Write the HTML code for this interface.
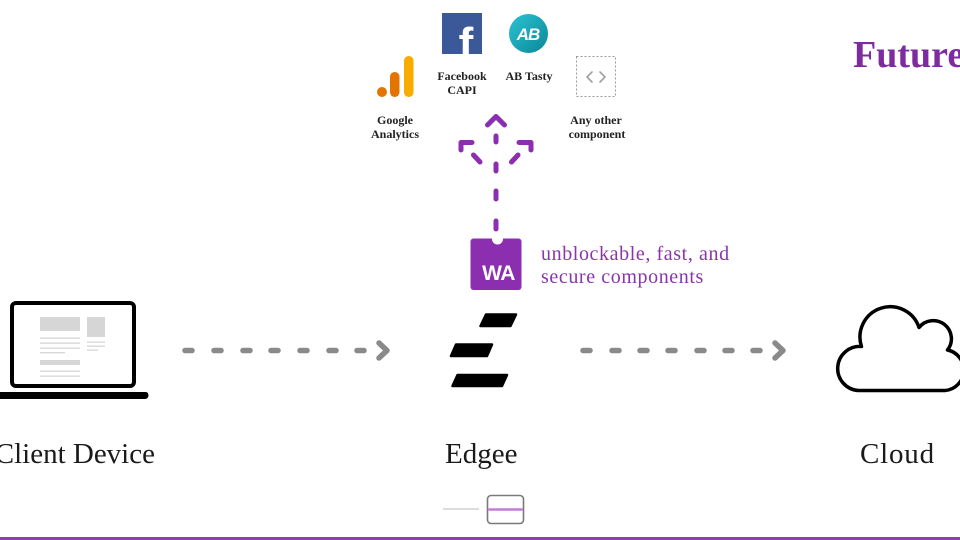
<!DOCTYPE html>
<html>
<head>
<meta charset="utf-8">
<style>
  html, body { margin:0; padding:0; background:#ffffff; }
  body { width:960px; height:540px; overflow:hidden; position:relative; }
  svg { position:absolute; left:0; top:0; }
  .lbl { font-family:"Liberation Serif", serif; font-weight:bold; font-size:12px; fill:#222; }
  .big { font-family:"Liberation Serif", serif; font-size:29px; fill:#1a1a1a; }
</style>
</head>
<body>
<svg width="960" height="540" viewBox="0 0 960 540" xmlns="http://www.w3.org/2000/svg">
  <defs>
    <linearGradient id="abg" x1="0" y1="0" x2="1" y2="1">
      <stop offset="0" stop-color="#2cc3d3"/>
      <stop offset="1" stop-color="#0a8797"/>
    </linearGradient>
  </defs>

  <!-- Future title -->
  <text x="853" y="67" font-family="Liberation Serif, serif" font-weight="bold" font-size="38" fill="#7e2ba0">Future</text>

  <!-- Google Analytics icon -->
  <rect x="404" y="56" width="9.5" height="41" rx="4.7" fill="#F9AB00"/>
  <rect x="390" y="72" width="9.5" height="25" rx="4.7" fill="#E37400"/>
  <circle cx="382" cy="92" r="5" fill="#E37400"/>
  <text class="lbl" x="395" y="124" text-anchor="middle">Google</text>
  <text class="lbl" x="395" y="138" text-anchor="middle">Analytics</text>

  <!-- Facebook -->
  <rect x="442" y="13" width="40" height="41" fill="#3b5998"/>
  <svg x="442" y="13" width="40" height="41" overflow="hidden">
    <text x="24" y="45" font-family="Liberation Sans, sans-serif" font-weight="bold" font-size="44" fill="#ffffff" text-anchor="middle">f</text>
  </svg>
  <text class="lbl" x="462" y="80" text-anchor="middle">Facebook</text>
  <text class="lbl" x="462" y="94" text-anchor="middle">CAPI</text>

  <!-- AB Tasty -->
  <circle cx="528.5" cy="33.5" r="19.5" fill="url(#abg)"/>
  <text x="528" y="40" font-family="Liberation Sans, sans-serif" font-weight="bold" font-style="italic" font-size="17" fill="#ffffff" text-anchor="middle" letter-spacing="-1">AB</text>
  <text class="lbl" x="529" y="80" text-anchor="middle">AB Tasty</text>

  <!-- Any other component -->
  <rect x="576.5" y="56.5" width="39" height="40" fill="none" stroke="#9a9a9a" stroke-width="1" stroke-dasharray="2 2"/>
  <polyline points="592,72 587,77 592,82" fill="none" stroke="#a0a0a0" stroke-width="1.6" stroke-linecap="round" stroke-linejoin="round"/>
  <polyline points="600,72 605,77 600,82" fill="none" stroke="#a0a0a0" stroke-width="1.6" stroke-linecap="round" stroke-linejoin="round"/>
  <text class="lbl" x="596" y="124" text-anchor="middle">Any other</text>
  <text class="lbl" x="597" y="138" text-anchor="middle">component</text>

  <!-- purple arrow cluster -->
  <g fill="none" stroke="#8b2fb0" stroke-width="5" stroke-linecap="round" stroke-linejoin="round">
    <polyline points="487.5,125 496,116.5 504.5,125"/>
    <line x1="496" y1="136" x2="496" y2="142"/>
    <line x1="496" y1="164" x2="496" y2="171"/>
    <line x1="496" y1="191" x2="496" y2="199"/>
    <line x1="496" y1="221" x2="496" y2="229"/>
    <polyline points="472,142.5 461,142.5 461,150"/>
    <polyline points="519,142.5 531,142.5 531,150"/>
    <line x1="473.5" y1="155" x2="480" y2="162"/>
    <line x1="518" y1="155" x2="511.5" y2="162"/>
  </g>

  <!-- WA box -->
  <rect x="470.5" y="238.5" width="51" height="51.5" rx="3" fill="#8b2fb0"/>
  <circle cx="497.5" cy="239" r="5.5" fill="#ffffff"/>
  <text x="498.5" y="280" font-family="Liberation Sans, sans-serif" font-weight="bold" font-size="21" fill="#ffffff" text-anchor="middle" letter-spacing="-0.5">WA</text>

  <text x="541" y="260" font-family="Liberation Serif, serif" font-size="20" fill="#8a35aa" letter-spacing="0.6">unblockable, fast, and</text>
  <text x="541" y="283" font-family="Liberation Serif, serif" font-size="20" fill="#8a35aa" letter-spacing="0.6">secure components</text>

  <!-- Laptop -->
  <rect x="12" y="303" width="122" height="83" rx="4" fill="#ffffff" stroke="#000" stroke-width="4"/>
  <path d="M0 392 H146 a2.5 3.5 0 0 1 2.5 3.5 a3.5 3.5 0 0 1 -3.5 3.5 H0 Z" fill="#000"/>
  <g fill="#d6d6d6">
    <rect x="40" y="317" width="40" height="14"/>
    <rect x="87" y="317" width="18" height="20"/>
    <rect x="40" y="337.5" width="40" height="1.3"/>
    <rect x="40" y="342.5" width="40" height="1.3"/>
    <rect x="40" y="347.5" width="40" height="1.3"/>
    <rect x="40" y="352" width="25" height="1.3"/>
    <rect x="40" y="360" width="40" height="5"/>
    <rect x="40" y="370.5" width="40" height="1.3"/>
    <rect x="40" y="375.5" width="40" height="1.3"/>
    <rect x="87" y="341.5" width="18" height="1.3"/>
    <rect x="87" y="345.5" width="18" height="1.3"/>
    <rect x="87" y="349.5" width="11" height="1.3"/>
  </g>

  <!-- Gray dashed arrows -->
  <g fill="none" stroke="#8a8a8a" stroke-width="5.5" stroke-linecap="round" stroke-linejoin="round">
    <line x1="185" y1="350.5" x2="192" y2="350.5"/>
    <line x1="214" y1="350.5" x2="221" y2="350.5"/>
    <line x1="243" y1="350.5" x2="250" y2="350.5"/>
    <line x1="271" y1="350.5" x2="278" y2="350.5"/>
    <line x1="300" y1="350.5" x2="307" y2="350.5"/>
    <line x1="329" y1="350.5" x2="336" y2="350.5"/>
    <line x1="357" y1="350.5" x2="364" y2="350.5"/>
    <polyline points="379,343 387,350.5 379,358"/>

    <line x1="583" y1="350.5" x2="590" y2="350.5"/>
    <line x1="612" y1="350.5" x2="619" y2="350.5"/>
    <line x1="640" y1="350.5" x2="647" y2="350.5"/>
    <line x1="668" y1="350.5" x2="675" y2="350.5"/>
    <line x1="697" y1="350.5" x2="704" y2="350.5"/>
    <line x1="725" y1="350.5" x2="732" y2="350.5"/>
    <line x1="753" y1="350.5" x2="760" y2="350.5"/>
    <polyline points="775,343 783,350.5 775,358"/>
  </g>

  <!-- Edgee logo -->
  <g fill="#000" stroke="#000" stroke-width="2.5" stroke-linejoin="round">
    <polygon points="486,314.5 516,314.5 510.5,326 480.5,326"/>
    <polygon points="456,344.5 492,344.5 487,356 451,356"/>
    <polygon points="457.5,375 507,375 502,386 452.5,386"/>
  </g>

  <!-- Cloud -->
  <path d="M858 390.5 A22 22 0 0 1 861.5 346.5 A30 30 0 0 1 919 327.5 A18 18 0 0 1 947.5 350 A20.5 20.5 0 0 1 945 390.5 Z"
        fill="#ffffff" stroke="#000" stroke-width="3.5" stroke-linejoin="round"/>

  <!-- Labels -->
  <text class="big" x="155" y="463" text-anchor="end">Client Device</text>
  <text class="big" x="445" y="463">Edgee</text>
  <text class="big" x="860" y="463" letter-spacing="0.8">Cloud</text>

  <!-- slider -->
  <line x1="443" y1="509" x2="479" y2="509" stroke="#dcdcdc" stroke-width="2"/>
  <rect x="487.5" y="495.5" width="36" height="28" rx="3.5" fill="#ffffff" stroke="#7a7a7a" stroke-width="1.6"/>
  <line x1="488.5" y1="509.5" x2="522.5" y2="509.5" stroke="#c47ad8" stroke-width="2.5"/>

  <!-- bottom purple line -->
  <rect x="0" y="537" width="960" height="3" fill="#8e3fae"/>
</svg>
</body>
</html>
